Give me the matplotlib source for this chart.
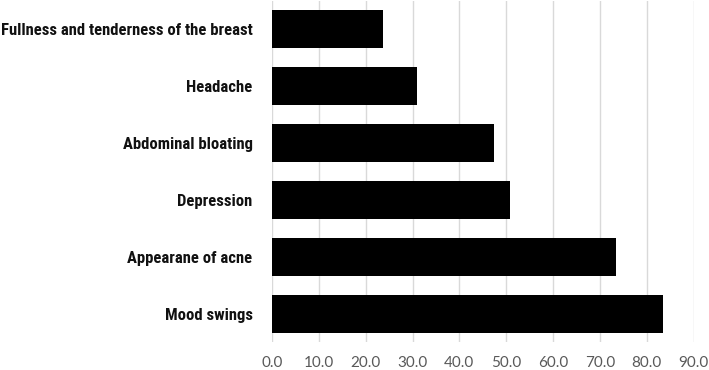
import matplotlib.pyplot as plt
from matplotlib.ticker import FormatStrFormatter

symptoms = ["Mood swings", "Appearane of acne", "Depression",
            "Abdominal bloating", "Headache", "Fullness and tenderness of the breast"]
percent = [83.4, 73.4, 50.9, 47.3, 31.0, 23.8]
xticks = [0, 10, 20, 30, 40, 50, 60, 70, 80, 90]

fig = plt.figure(figsize=(7.09, 3.70), dpi=100)
ax = fig.add_axes([272 / 709, 1 - 342 / 370, (694 - 272) / 709, 341 / 370])

ax.barh(range(len(symptoms)), percent, height=0.67, color="black", zorder=3)

ax.set_xlim(0, 90.1)
ax.set_ylim(-0.5, len(symptoms) - 0.5)
ax.set_xticks(xticks)
ax.xaxis.set_major_formatter(FormatStrFormatter("%.1f"))
ax.grid(axis="x", color="#d9d9d9", linewidth=1.0, zorder=0)

ax.set_yticks(range(len(symptoms)))
ax.set_yticklabels(symptoms,
                   fontfamily=["Roboto Condensed", "Liberation Sans Narrow", "Roboto"],
                   fontweight="bold", fontsize=12, color="#111111")

for lbl in ax.get_xticklabels():
    lbl.set_fontfamily(["Lato", "DejaVu Sans"])
    lbl.set_fontsize(11)
    lbl.set_color("#595959")

ax.tick_params(axis="x", length=0, pad=10)
ax.tick_params(axis="y", length=0, pad=14)
for s in ax.spines.values():
    s.set_visible(False)

fig.savefig("out.png", dpi=100)
